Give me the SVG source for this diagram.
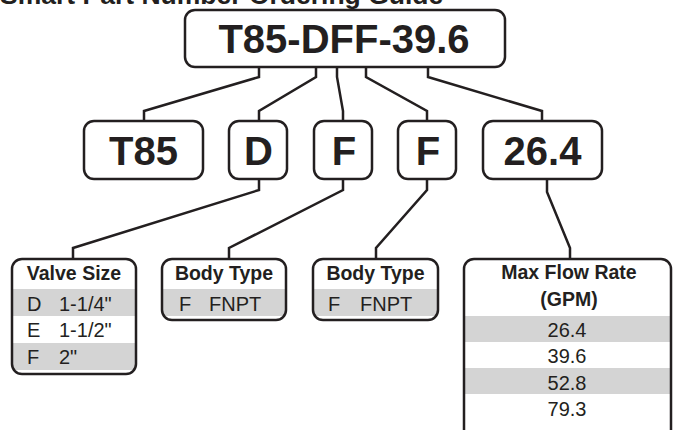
<svg xmlns="http://www.w3.org/2000/svg" width="673" height="430" viewBox="0 0 673 430">
<style>
.box{fill:#fff;stroke:#231f20;stroke-width:2.5}
.frame{fill:none;stroke:#231f20;stroke-width:2.5}
.conn{fill:none;stroke:#231f20;stroke-width:2.5;stroke-linejoin:miter}
.big{font-family:"Liberation Sans",Arial,sans-serif;font-weight:bold;font-size:40px;fill:#231f20;text-anchor:middle}
.hdr{font-family:"Liberation Sans",Arial,sans-serif;font-weight:bold;font-size:19.5px;fill:#231f20;text-anchor:middle}
.row{font-family:"Liberation Sans",Arial,sans-serif;font-size:20px;fill:#231f20}
.mid{text-anchor:middle}
.gray{fill:#d4d4d4}
.title{font-family:"Liberation Sans",Arial,sans-serif;font-weight:bold;font-size:26.5px;fill:#231f20}
</style>
<defs>
<clipPath id="cVS"><rect x="12" y="259" width="124" height="115" rx="10"/></clipPath>
<clipPath id="cBT1"><rect x="162" y="259" width="124" height="61" rx="10"/></clipPath>
<clipPath id="cBT2"><rect x="313" y="259" width="125" height="61" rx="10"/></clipPath>
<clipPath id="cMF"><rect x="464" y="259" width="207" height="200" rx="10"/></clipPath>
</defs>
<rect width="673" height="430" fill="#fff"/>
<text class="title" x="0" y="4">Smart Part Number Ordering Guide</text>

<g id="connectors">
<path class="conn" d="M259,67 V77 L144,111 V121"/>
<path class="conn" d="M316,67 V77 L259,111 V121"/>
<path class="conn" d="M337,67 V77 L343,111 V121"/>
<path class="conn" d="M366,67 V77 L427,111 V121"/>
<path class="conn" d="M428,67 V77 L542,111 V121"/>
<path class="conn" d="M259,179 V190 L73,248 V259"/>
<path class="conn" d="M343,179 V190 L229,248 V259"/>
<path class="conn" d="M427,179 V190 L376,248 V259"/>
<path class="conn" d="M547,179 V192 L570,248 V259"/>
</g>

<g id="part-number">
<rect class="box" x="185" y="10" width="320" height="57" rx="10"/>
<text class="big" x="344" y="53">T85-DFF-39.6</text>
</g>

<g id="seg-t85">
<rect class="box" x="84" y="121" width="119" height="58" rx="10"/>
<text class="big" x="143.5" y="165">T85</text>
</g>
<g id="seg-d">
<rect class="box" x="229" y="121" width="58" height="58" rx="10"/>
<text class="big" x="258.5" y="165">D</text>
</g>
<g id="seg-f1">
<rect class="box" x="314" y="121" width="58" height="58" rx="10"/>
<text class="big" x="344" y="165">F</text>
</g>
<g id="seg-f2">
<rect class="box" x="398" y="121" width="58" height="58" rx="10"/>
<text class="big" x="428" y="165">F</text>
</g>
<g id="seg-flow">
<rect class="box" x="483" y="121" width="119" height="58" rx="10"/>
<text class="big" x="542.5" y="165">26.4</text>
</g>

<g id="valve-size">
<rect x="12" y="259" width="124" height="115" rx="10" fill="#fff"/>
<g clip-path="url(#cVS)">
<rect class="gray" x="12" y="289" width="124" height="27"/>
<rect class="gray" x="12" y="343" width="124" height="27"/>
</g>
<rect class="frame" x="12" y="259" width="124" height="115" rx="10"/>
<text class="hdr" x="74" y="280">Valve Size</text>
<text class="row" x="27" y="311">D</text><text class="row" x="59" y="311">1-1/4"</text>
<text class="row" x="27" y="337">E</text><text class="row" x="59" y="337">1-1/2"</text>
<text class="row" x="27" y="364">F</text><text class="row" x="59" y="364">2"</text>
</g>

<g id="body-type-1">
<rect x="162" y="259" width="124" height="61" rx="10" fill="#fff"/>
<g clip-path="url(#cBT1)">
<rect class="gray" x="162" y="289" width="124" height="27"/>
</g>
<rect class="frame" x="162" y="259" width="124" height="61" rx="10"/>
<text class="hdr" x="224" y="280">Body Type</text>
<text class="row" x="179" y="311">F</text><text class="row" x="209" y="311">FNPT</text>
</g>

<g id="body-type-2">
<rect x="313" y="259" width="125" height="61" rx="10" fill="#fff"/>
<g clip-path="url(#cBT2)">
<rect class="gray" x="313" y="289" width="125" height="27"/>
</g>
<rect class="frame" x="313" y="259" width="125" height="61" rx="10"/>
<text class="hdr" x="375.5" y="280">Body Type</text>
<text class="row" x="328" y="311">F</text><text class="row" x="360" y="311">FNPT</text>
</g>

<g id="max-flow">
<rect x="464" y="259" width="207" height="200" rx="10" fill="#fff"/>
<g clip-path="url(#cMF)">
<rect class="gray" x="464" y="316" width="207" height="26"/>
<rect class="gray" x="464" y="368" width="207" height="26"/>
</g>
<rect class="frame" x="464" y="259" width="207" height="200" rx="10"/>
<text class="hdr" x="569" y="279">Max Flow Rate</text>
<text class="hdr" x="569" y="306">(GPM)</text>
<text class="row mid" x="567" y="337">26.4</text>
<text class="row mid" x="567" y="363">39.6</text>
<text class="row mid" x="567" y="390">52.8</text>
<text class="row mid" x="567" y="416">79.3</text>
</g>
</svg>
